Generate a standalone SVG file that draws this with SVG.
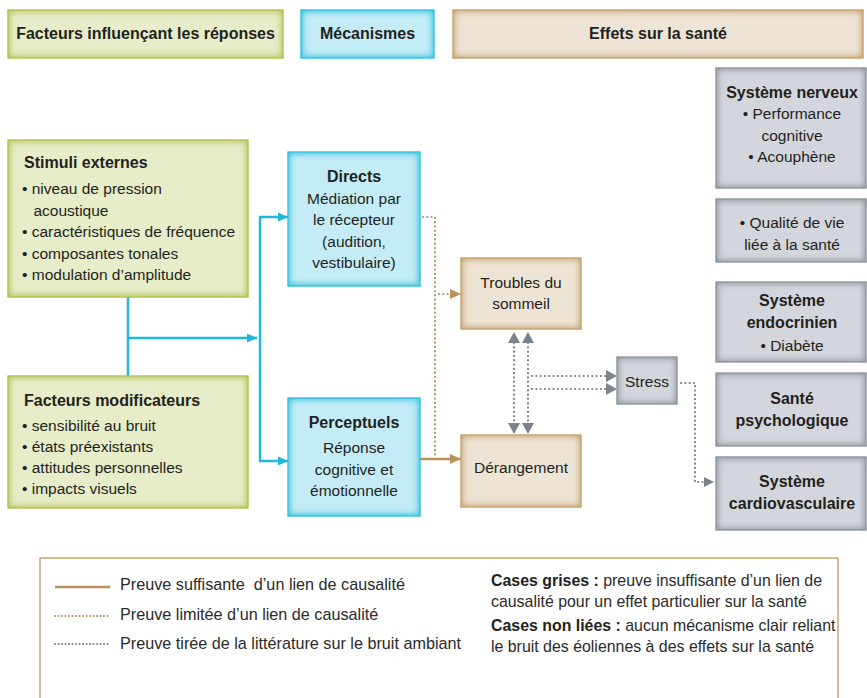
<svg xmlns="http://www.w3.org/2000/svg" width="867" height="698" viewBox="0 0 867 698">
<defs>
<style>
text{font-family:"Liberation Sans",Arial,sans-serif;fill:#231f20}
.b{font-weight:bold;font-size:16px}
.r{font-size:15.5px}
.m{text-anchor:middle}
.lg{font-size:16.2px;fill:#2a2a2a}
.lr{font-size:15.9px;fill:#2a2a2a}
.green{fill:#e7ecc9;stroke:#b0be4a;stroke-width:1;filter:url(#fgreen)}
.cyan{fill:#c3ecf6;stroke:#2fbfdc;stroke-width:1;filter:url(#fcyan)}
.tan{fill:#eee4d5;stroke:#c29e69;stroke-width:1;filter:url(#ftan)}
.gray{fill:#d3d6dc;stroke:#8e949d;stroke-width:1;filter:url(#fgray)}
.cl{fill:none;stroke:#1fb8d8;stroke-width:2.5}
.ts{fill:none;stroke:#b8925a;stroke-width:2.5}
.td{fill:none;stroke:#b8925a;stroke-width:2.2;stroke-dasharray:0.1 4.2;stroke-linecap:round}
.gd{fill:none;stroke:#7b838d;stroke-width:2.2;stroke-dasharray:0.1 4.2;stroke-linecap:round}
</style>
<filter id="fgreen" x="-0.05" y="-0.1" width="1.1" height="1.2" color-interpolation-filters="sRGB">
<feMorphology in="SourceAlpha" operator="erode" radius="2" result="er"/>
<feGaussianBlur in="er" stdDeviation="3" result="b"/>
<feComposite in="SourceAlpha" in2="b" operator="out" result="e"/>
<feFlood flood-color="#b0be4a"/>
<feComposite in2="e" operator="in" result="s"/>
<feMerge><feMergeNode in="SourceGraphic"/><feMergeNode in="s"/></feMerge>
</filter>
<filter id="fcyan" x="-0.05" y="-0.1" width="1.1" height="1.2" color-interpolation-filters="sRGB">
<feMorphology in="SourceAlpha" operator="erode" radius="2" result="er"/>
<feGaussianBlur in="er" stdDeviation="3" result="b"/>
<feComposite in="SourceAlpha" in2="b" operator="out" result="e"/>
<feFlood flood-color="#2dbfdc"/>
<feComposite in2="e" operator="in" result="s"/>
<feMerge><feMergeNode in="SourceGraphic"/><feMergeNode in="s"/></feMerge>
</filter>
<filter id="ftan" x="-0.05" y="-0.1" width="1.1" height="1.2" color-interpolation-filters="sRGB">
<feMorphology in="SourceAlpha" operator="erode" radius="2" result="er"/>
<feGaussianBlur in="er" stdDeviation="3" result="b"/>
<feComposite in="SourceAlpha" in2="b" operator="out" result="e"/>
<feFlood flood-color="#c39e68"/>
<feComposite in2="e" operator="in" result="s"/>
<feMerge><feMergeNode in="SourceGraphic"/><feMergeNode in="s"/></feMerge>
</filter>
<filter id="fgray" x="-0.05" y="-0.1" width="1.1" height="1.2" color-interpolation-filters="sRGB">
<feMorphology in="SourceAlpha" operator="erode" radius="2" result="er"/>
<feGaussianBlur in="er" stdDeviation="3" result="b"/>
<feComposite in="SourceAlpha" in2="b" operator="out" result="e"/>
<feFlood flood-color="#8a909a"/>
<feComposite in2="e" operator="in" result="s"/>
<feMerge><feMergeNode in="SourceGraphic"/><feMergeNode in="s"/></feMerge>
</filter>
<marker id="ac" viewBox="0 0 10 10" refX="10" refY="5" markerWidth="10" markerHeight="10" markerUnits="userSpaceOnUse" orient="auto-start-reverse"><path d="M0,0.5 L10,5 L0,9.5 Z" fill="#1fb8d8"/></marker>
<marker id="at" viewBox="0 0 10 10" refX="10" refY="5" markerWidth="11" markerHeight="11" markerUnits="userSpaceOnUse" orient="auto-start-reverse"><path d="M0,0.5 L10,5 L0,9.5 Z" fill="#b8925a"/></marker>
</defs>
<rect width="867" height="698" fill="#fff"/>

<g id="header-facteurs"><rect class="green" x="8" y="10" width="275" height="48"/><text class="b m" x="145.5" y="39">Facteurs influençant les réponses</text></g>
<g id="header-mecanismes"><rect class="cyan" x="301" y="10" width="133" height="48"/><text class="b m" x="367.5" y="39">Mécanismes</text></g>
<g id="header-effets"><rect class="tan" x="453" y="10" width="410" height="48"/><text class="b m" x="658" y="39">Effets sur la santé</text></g>

<g id="connectors">
<path class="cl" d="M128,297 V376"/>
<path class="cl" d="M128,338 H257" marker-end="url(#ac)"/>
<path class="cl" d="M260,217 V461"/>
<path class="cl" d="M259,217 H288" marker-end="url(#ac)"/>
<path class="cl" d="M259,461 H288" marker-end="url(#ac)"/>
<path class="td" d="M423,217 H435 V456"/>
<path class="td" d="M439,294 H450"/>
<path d="M450,289 L461,294 L450,299 Z" fill="#b8925a"/>
<path class="ts" d="M420,459 H461" marker-end="url(#at)"/>
<path class="gd" d="M514,343 V423"/>
<path d="M508,343 L514,332 L520,343 Z M508,423 L514,434 L520,423 Z" fill="#7b838d"/>
<path class="gd" d="M528,343 V423"/>
<path d="M522,343 L528,332 L534,343 Z M522,423 L528,434 L534,423 Z" fill="#7b838d"/>
<path class="gd" d="M532,376 H606"/>
<path d="M606,370 L617,376 L606,382 Z" fill="#7b838d"/>
<path class="gd" d="M532,389 H606"/>
<path d="M606,383 L617,389 L606,395 Z" fill="#7b838d"/>
<path class="gd" d="M681,383 H695 V482 H704"/>
<path d="M704,477 L714,482 L704,487 Z" fill="#7b838d"/>
</g>

<g id="stimuli-externes"><rect class="green" x="8" y="140" width="240" height="157"/>
<text class="b" x="24" y="168">Stimuli externes</text>
<text class="r" x="22" y="194">• niveau de pression</text>
<text class="r" x="33.5" y="215.5">acoustique</text>
<text class="r" x="22" y="237">• caractéristiques de fréquence</text>
<text class="r" x="22" y="258.5">• composantes tonales</text>
<text class="r" x="22" y="280">• modulation d’amplitude</text>
</g>

<g id="facteurs-modificateurs"><rect class="green" x="8" y="376" width="240" height="132"/>
<text class="b" x="24" y="406">Facteurs modificateurs</text>
<text class="r" x="22" y="431">• sensibilité au bruit</text>
<text class="r" x="22" y="452">• états préexistants</text>
<text class="r" x="22" y="473">• attitudes personnelles</text>
<text class="r" x="22" y="494">• impacts visuels</text>
</g>

<g id="directs"><rect class="cyan" x="288" y="152" width="132" height="134"/>
<text class="b m" x="354" y="182">Directs</text>
<text class="r m" x="354" y="203.5">Médiation par</text>
<text class="r m" x="354" y="225">le récepteur</text>
<text class="r m" x="354" y="246.5">(audition,</text>
<text class="r m" x="354" y="268">vestibulaire)</text>
</g>

<g id="perceptuels"><rect class="cyan" x="288" y="398" width="132" height="118"/>
<text class="b m" x="354" y="428">Perceptuels</text>
<text class="r m" x="354" y="453">Réponse</text>
<text class="r m" x="354" y="474.5">cognitive et</text>
<text class="r m" x="354" y="496">émotionnelle</text>
</g>

<g id="troubles-sommeil"><rect class="tan" x="461" y="258" width="120" height="71"/>
<text class="r m" x="521" y="288">Troubles du</text>
<text class="r m" x="521" y="309">sommeil</text>
</g>

<g id="derangement"><rect class="tan" x="461" y="435" width="120" height="72"/>
<text class="r m" x="521" y="473">Dérangement</text>
</g>

<g id="stress"><rect class="gray" x="617" y="357" width="60" height="47"/>
<text class="r m" x="647" y="387">Stress</text>
</g>

<g id="systeme-nerveux"><rect class="gray" x="716" y="68" width="150" height="120"/>
<text class="b m" x="792" y="98">Système nerveux</text>
<text class="r m" x="792" y="119">• Performance</text>
<text class="r m" x="792" y="140.5">cognitive</text>
<text class="r m" x="792" y="162">• Acouphène</text>
</g>

<g id="qualite-vie"><rect class="gray" x="716" y="199" width="150" height="63"/>
<text class="r m" x="792" y="228">• Qualité de vie</text>
<text class="r m" x="792" y="249.5">liée à la santé</text>
</g>

<g id="systeme-endocrinien"><rect class="gray" x="716" y="282" width="150" height="80"/>
<text class="b m" x="792" y="306">Système</text>
<text class="b m" x="792" y="328">endocrinien</text>
<text class="r m" x="792" y="351">• Diabète</text>
</g>

<g id="sante-psychologique"><rect class="gray" x="716" y="373" width="150" height="73"/>
<text class="b m" x="792" y="404">Santé</text>
<text class="b m" x="792" y="426">psychologique</text>
</g>

<g id="systeme-cardiovasculaire"><rect class="gray" x="716" y="457" width="150" height="73"/>
<text class="b m" x="792" y="487">Système</text>
<text class="b m" x="792" y="509">cardiovasculaire</text>
</g>

<g id="legende">
<rect x="40" y="558" width="798" height="160" fill="none" stroke="#c9a670" stroke-width="1.5"/>
<path d="M55,587 H110" stroke="#b8925a" stroke-width="2.5" fill="none"/>
<path class="td" d="M55,616 H108" style="stroke-width:2;stroke-dasharray:0.1 3.4"/>
<path class="gd" d="M55,644 H108" style="stroke-width:2;stroke-dasharray:0.1 3.4"/>
<text class="lg" x="120" y="590">Preuve suffisante&#160; d’un lien de causalité</text>
<text class="lg" x="120" y="620">Preuve limitée d’un lien de causalité</text>
<text class="lg" x="120" y="649">Preuve tirée de la littérature sur le bruit ambiant</text>
<text class="lr" x="491" y="586"><tspan font-weight="bold" fill="#231f20">Cases grises :</tspan> preuve insuffisante d’un lien de</text>
<text class="lr" x="491" y="607">causalité pour un effet particulier sur la santé</text>
<text class="lr" x="491" y="631"><tspan font-weight="bold" fill="#231f20">Cases non liées :</tspan> aucun mécanisme clair reliant</text>
<text class="lr" x="491" y="652">le bruit des éoliennes à des effets sur la santé</text>
</g>
</svg>
